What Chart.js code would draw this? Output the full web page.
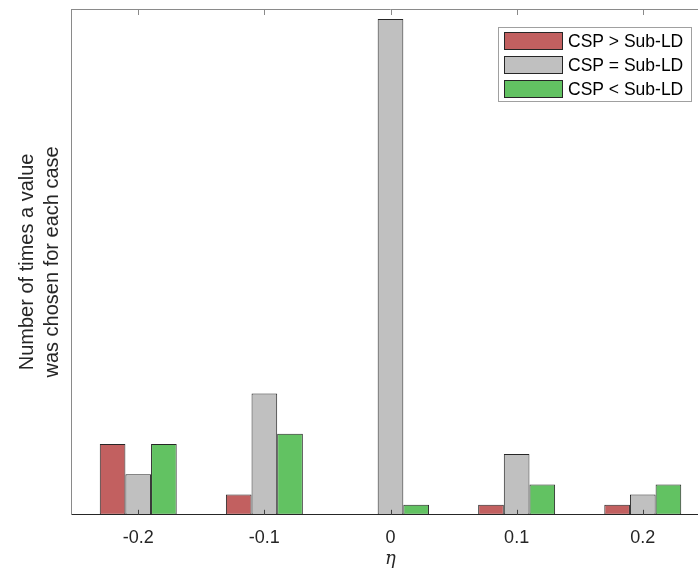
<!DOCTYPE html>
<html>
<head>
<meta charset="utf-8">
<script src="https://cdn.jsdelivr.net/npm/chart.js@4.4.1/dist/chart.umd.min.js"></script>
<style>
    html, body { margin: 0; padding: 0; background: #fff; overflow: hidden; }
    #wrap { width: 698px; height: 570px; overflow: hidden; }
</style>
</head>
<body>
<div id="wrap"><canvas id="barChart" width="720" height="570"></canvas></div>
<script>
const etaValues = [-0.2, -0.1, 0, 0.1, 0.2];
const tickLabels = ['-0.2', '-0.1', '0', '0.1', '0.2'];
const cspGreater = [7, 2, 0, 1, 1];
const cspEqual = [4, 12, 49, 6, 2];
const cspLess = [7, 8, 1, 3, 3];
const seriesNames = ['CSP > Sub-LD', 'CSP = Sub-LD', 'CSP < Sub-LD'];
const seriesColors = ['#c26060', '#c0c0c0', '#62c262'];

const toPoints = (vals) => vals.map((v, i) => ({x: etaValues[i], y: v}));

// top box line, inward ticks and the legend box
const framePlugin = {
    id: 'frame',
    afterDatasetsDraw(chart) {
        const ctx = chart.ctx;
        const a = chart.chartArea;
        const xs = chart.scales.x;
        ctx.save();
        ctx.lineWidth = 1;
        ctx.strokeStyle = '#8a8a8a';
        ctx.beginPath();
        ctx.moveTo(a.left, Math.round(a.top) + 0.5);
        ctx.lineTo(a.right, Math.round(a.top) + 0.5);
        etaValues.forEach(v => {
            const px = Math.round(xs.getPixelForValue(v)) + 0.5;
            ctx.moveTo(px, a.top);
            ctx.lineTo(px, a.top + 6);
        });
        ctx.stroke();
        ctx.strokeStyle = '#404040';
        ctx.beginPath();
        etaValues.forEach(v => {
            const px = Math.round(xs.getPixelForValue(v)) + 0.5;
            ctx.moveTo(px, a.bottom);
            ctx.lineTo(px, a.bottom - 5);
        });
        ctx.stroke();

        // legend
        const lx = 498, ly = 27, lw = 193, lh = 74;
        ctx.fillStyle = '#fff';
        ctx.fillRect(lx, ly, lw, lh);
        ctx.strokeStyle = '#a0a0a0';
        ctx.strokeRect(lx + 0.5, ly + 0.5, lw, lh);
        ctx.font = '17.5px "Liberation Sans", Arial, sans-serif';
        ctx.textBaseline = 'middle';
        seriesNames.forEach((name, i) => {
            const y = ly + 5 + i * 24;
            ctx.fillStyle = seriesColors[i];
            ctx.fillRect(504, y, 59, 18);
            ctx.strokeStyle = '#262626';
            ctx.strokeRect(504.5, y + 0.5, 58, 17);
            ctx.fillStyle = '#000';
            ctx.fillText(name, 568, y + 10);
        });
        ctx.restore();
    }
};

new Chart(document.getElementById('barChart'), {
    type: 'bar',
    data: {
        datasets: [cspGreater, cspEqual, cspLess].map((vals, i) => ({
            label: seriesNames[i],
            data: toPoints(vals),
            backgroundColor: seriesColors[i],
            borderColor: '#262626',
            borderWidth: 1,
            borderSkipped: false,
            categoryPercentage: 0.61,
            barPercentage: 1
        }))
    },
    options: {
        responsive: false,
        animation: false,
        devicePixelRatio: 1,
        layout: { padding: { left: 13, right: 10, top: 9, bottom: 0 } },
        plugins: { legend: { display: false }, tooltip: { enabled: false } },
        scales: {
            x: {
                type: 'linear',
                offset: false,
                min: -0.2533,
                max: 0.2533,
                grid: { display: false, drawTicks: false },
                border: { color: '#262626', width: 1 },
                afterBuildTicks: (axis) => { axis.ticks = etaValues.map(v => ({value: v})); },
                ticks: {
                    autoSkip: false,
                    maxRotation: 0,
                    padding: 12,
                    color: '#262626',
                    font: { family: '"Liberation Sans", Arial, sans-serif', size: 18 },
                    callback: (v, i) => tickLabels[i]
                },
                title: {
                    display: true,
                    text: 'η',
                    color: '#262626',
                    padding: { top: -12, bottom: 0 },
                    font: { family: '"DejaVu Serif", "Liberation Serif", serif', size: 18, style: 'italic' }
                }
            },
            y: {
                min: 0,
                max: 50,
                grid: { display: false, drawTicks: false },
                border: { color: '#8a8a8a', width: 1 },
                ticks: { display: false },
                title: {
                    display: true,
                    text: ['Number of times a value', 'was chosen for each case'],
                    color: '#262626',
                    padding: { top: 2, bottom: 6 },
                    font: { family: '"Liberation Sans", Arial, sans-serif', size: 20, lineHeight: 1.25 }
                }
            }
        }
    },
    plugins: [framePlugin]
});
</script>
</body>
</html>
